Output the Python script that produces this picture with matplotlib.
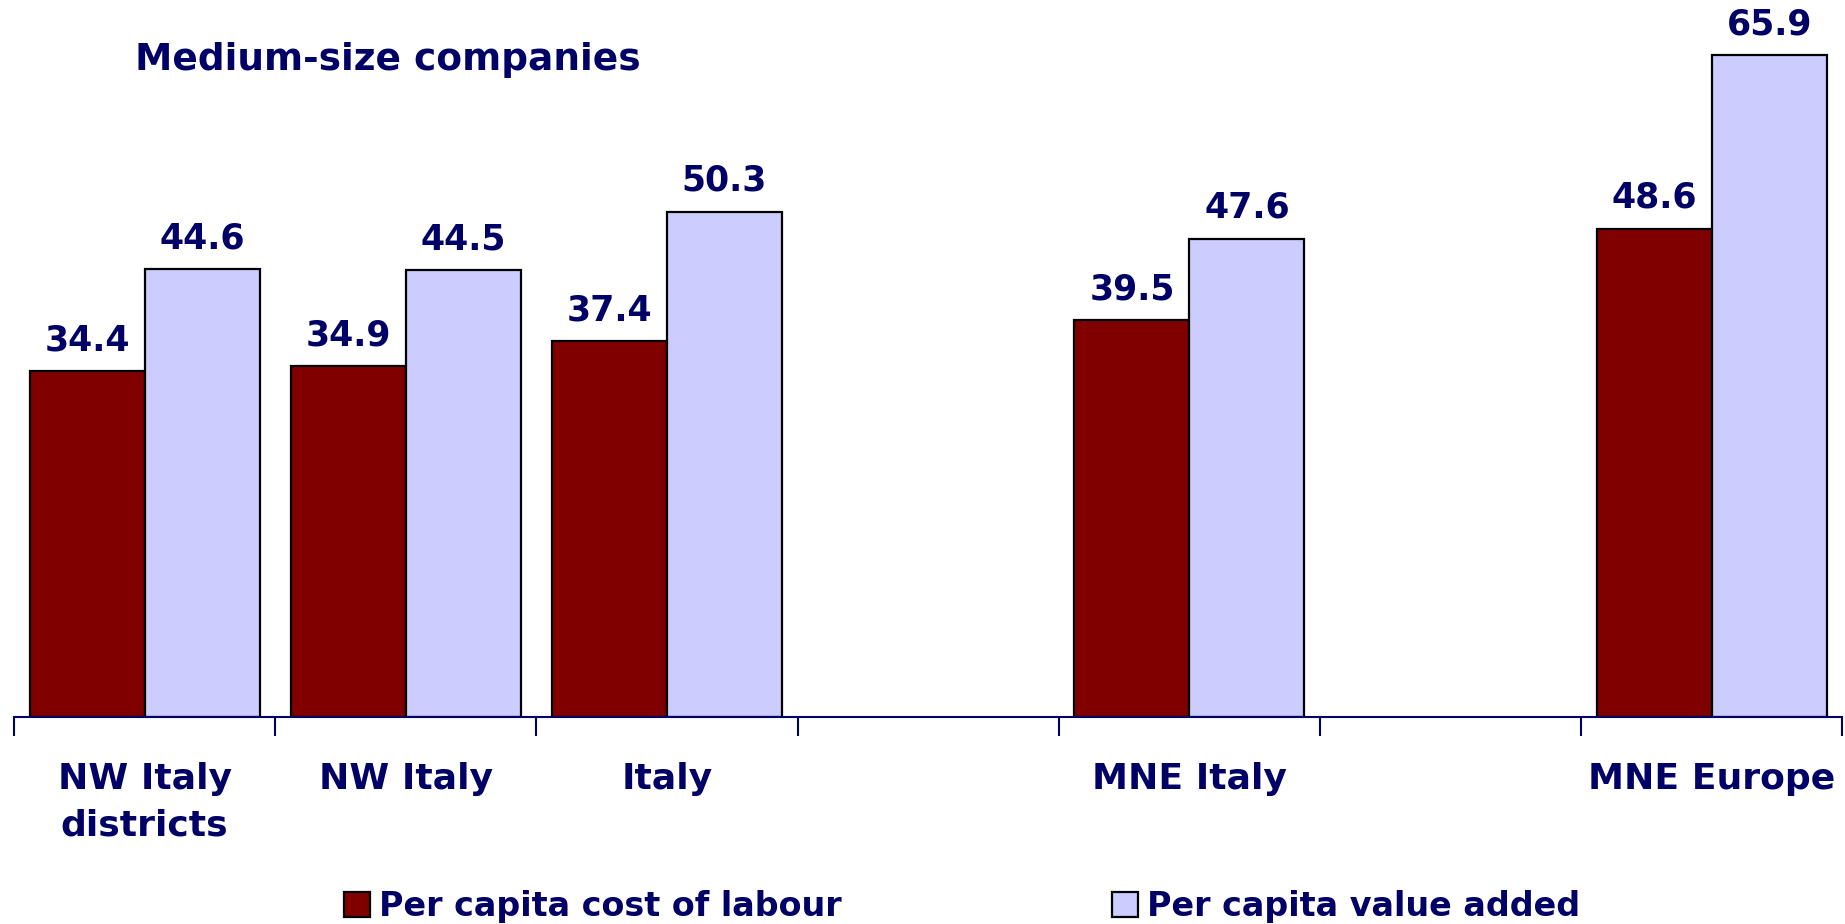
import numpy as np
import matplotlib
matplotlib.use("Agg")
import matplotlib.pyplot as plt

# Dati (slot vuoti come nell'originale)
categories = ["NW Italy\ndistricts", "NW Italy", "Italy", "", "MNE Italy", "", "MNE Europe"]
labour_cost = [34.4, 34.9, 37.4, np.nan, 39.5, np.nan, 48.6]
value_added = [44.6, 44.5, 50.3, np.nan, 47.6, np.nan, 65.9]
series_names = ["Per capita cost of labour", "Per capita value added"]
title = "Medium-size companies"

navy = "#000066"
plt.rcParams["font.family"] = ["DejaVu Sans"]
plt.rcParams["font.weight"] = "bold"

fig = plt.figure(figsize=(18.45, 9.24), dpi=100)
ax = fig.add_axes([0.0076, 0.224, 0.991, 0.761])

x = np.arange(len(categories))
w = 0.44
b1 = ax.bar(x - w / 2, labour_cost, w, color="#800000", edgecolor="black", linewidth=1.6,
            label=series_names[0])
b2 = ax.bar(x + w / 2, value_added, w, color="#CCCCFF", edgecolor="black", linewidth=1.6,
            label=series_names[1])

for bars, vals in ((b1, labour_cost), (b2, value_added)):
    for rect, v in zip(bars, vals):
        if np.isnan(v):
            continue
        ax.annotate(f"{v:.1f}", (rect.get_x() + rect.get_width() / 2, v),
                    xytext=(0, 10), textcoords="offset points",
                    ha="center", va="bottom", fontsize=25, color=navy, fontweight="bold")

ax.set_xlim(-0.5, len(categories) - 0.5)
ax.set_ylim(0, 70)
for s in ["top", "right", "left"]:
    ax.spines[s].set_visible(False)
ax.spines["bottom"].set_color(navy)
ax.spines["bottom"].set_linewidth(1.5)
ax.set_yticks([])

# tacche ai confini delle categorie, etichette al centro
ax.set_xticks(np.arange(len(categories) + 1) - 0.5)
ax.set_xticklabels([])
ax.tick_params(axis="x", which="major", length=14, width=1.5, color=navy)
ax.set_xticks(x, minor=True)
ax.set_xticklabels(categories, minor=True, fontsize=26, color=navy, fontweight="bold",
                   linespacing=1.45, va="top")
ax.tick_params(axis="x", which="minor", length=0, pad=32.5)

fig.text(0.073, 0.935, title, fontsize=27, color=navy, fontweight="bold", ha="left", va="center")

leg = fig.legend(handles=[b1, b2], loc="center", bbox_to_anchor=(0.5215, 0.019), ncol=2,
                 frameon=False, fontsize=24, handlelength=0.78, handleheight=0.78,
                 handletextpad=0.28, columnspacing=8.1, borderpad=0)
for t in leg.get_texts():
    t.set_color(navy)
    t.set_fontweight("bold")

fig.savefig("out.png", dpi=100)
